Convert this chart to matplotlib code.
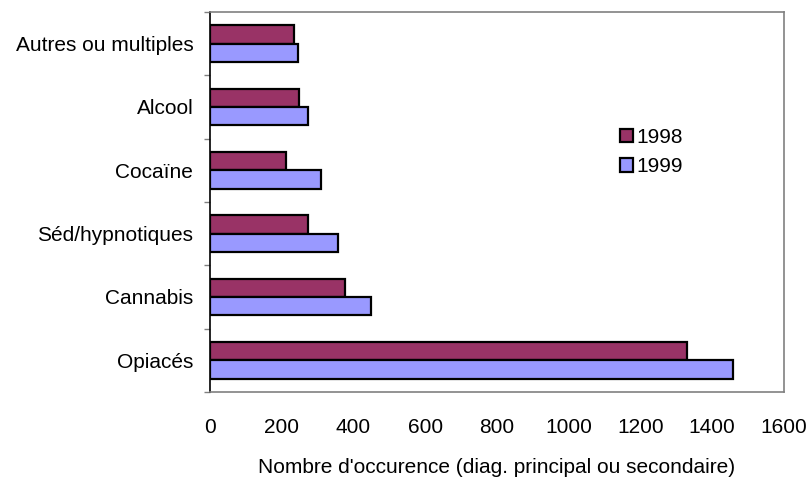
import numpy as np
import matplotlib.pyplot as plt
from matplotlib.ticker import FixedLocator, NullFormatter

# ----------------------------
# Data
# ----------------------------
categories = ["Opiacés", "Cannabis", "Séd/hypnotiques", "Cocaïne", "Alcool", "Autres ou multiples"]
values_1998 = [1329, 377, 273, 212, 247, 234]
values_1999 = [1459, 448, 356, 309, 272, 246]
series_labels = ["1998", "1999"]
x_ticks = [0, 200, 400, 600, 800, 1000, 1200, 1400, 1600]
x_label = "Nombre d'occurence (diag. principal ou secondaire)"

# ----------------------------
# Style
# ----------------------------
plt.rcParams['font.family'] = ['Liberation Sans', 'DejaVu Sans']
FONT_SIZE = 15
COLOR_1998 = "#993366"
COLOR_1999 = "#9999FF"
BAR_H = 0.29

fig = plt.figure(figsize=(8.1, 4.82), dpi=100)
ax = fig.add_axes([210 / 810, 1 - 392 / 482, 574 / 810, 380 / 482])

y = np.arange(len(categories))
b98 = ax.barh(y + BAR_H / 2, values_1998, height=BAR_H, color=COLOR_1998,
              edgecolor='black', linewidth=1.6, label=series_labels[0])
b99 = ax.barh(y - BAR_H / 2, values_1999, height=BAR_H, color=COLOR_1999,
              edgecolor='black', linewidth=1.6, label=series_labels[1])

ax.set_xlim(0, 1600)
ax.set_ylim(-0.5, len(categories) - 0.5)

# x axis: labels only, no tick marks
ax.set_xticks(x_ticks)
ax.set_xticklabels([str(v) for v in x_ticks], fontsize=FONT_SIZE)
ax.tick_params(axis='x', length=0, pad=19)
ax.set_xlabel(x_label, fontsize=FONT_SIZE, labelpad=15)

# y axis: tick marks at the category boundaries, labels at the centres
ax.yaxis.set_major_locator(FixedLocator(np.arange(-0.5, len(categories), 1.0)))
ax.yaxis.set_major_formatter(NullFormatter())
ax.yaxis.set_minor_locator(FixedLocator(y))
ax.set_yticklabels(categories, minor=True, fontsize=FONT_SIZE)
ax.tick_params(axis='y', which='major', length=4.5, width=1, color='#808080', direction='out')
ax.tick_params(axis='y', which='minor', length=0, pad=12)

# frame: black left axis, grey border elsewhere
for side in ['top', 'right', 'bottom']:
    ax.spines[side].set_color('#808080')
    ax.spines[side].set_linewidth(1.2)
ax.spines['left'].set_color('black')
ax.spines['left'].set_linewidth(1.2)

leg = fig.legend(handles=[b98, b99], loc='upper left',
                 bbox_to_anchor=(620 / 810, 1 - 128 / 482),
                 frameon=False, fontsize=FONT_SIZE, borderpad=0,
                 handlelength=0.6, handleheight=0.6, handletextpad=0.2,
                 labelspacing=0.5, borderaxespad=0)

fig.savefig("out.png", dpi=100)
